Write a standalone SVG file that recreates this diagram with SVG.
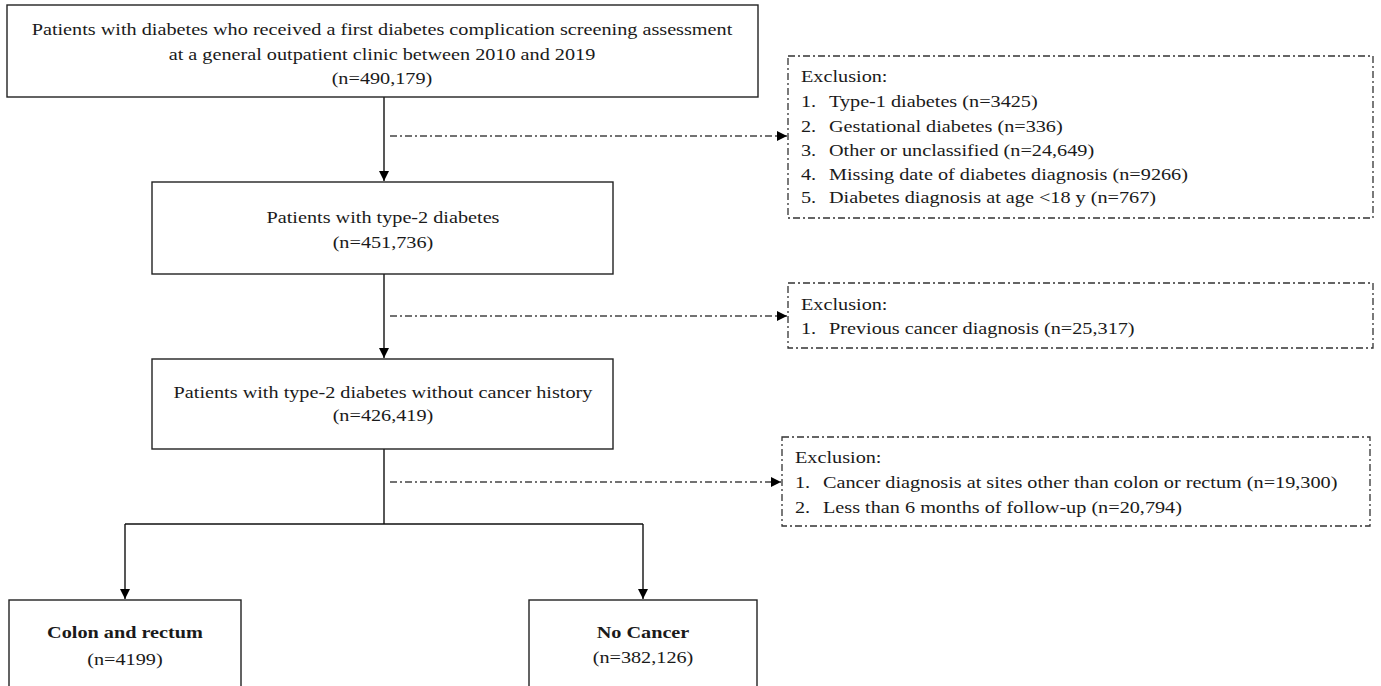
<svg xmlns="http://www.w3.org/2000/svg" width="1381" height="686" viewBox="0 0 1381 686">
<defs>
<marker id="ah" viewBox="0 0 10 10" refX="10" refY="5" markerWidth="10" markerHeight="10" markerUnits="userSpaceOnUse" orient="auto">
<path d="M0,0 L10,5 L0,10 z" fill="#000"/>
</marker>
<style>
text{font-family:"Liberation Serif","Times New Roman",serif;font-size:17px;fill:#1a1a1a}
.c{text-anchor:middle}
.b{font-weight:bold}
.box{fill:#fff;stroke:#222;stroke-width:1.4}
.dbox{fill:#fff;stroke:#333;stroke-width:1.3;stroke-dasharray:7 3 2 3}
.ln{fill:none;stroke:#111;stroke-width:1.4}
.dl{fill:none;stroke:#444;stroke-width:1.3;stroke-dasharray:7 3 2 3}
</style>
</defs>
<rect width="1381" height="686" fill="#fff"/>
<g id="connectors">
<path class="ln" d="M384,97 L384,181" marker-end="url(#ah)"/>
<path class="ln" d="M384,274 L384,358" marker-end="url(#ah)"/>
<path class="ln" d="M384,449 L384,524 M125,524 L643,524"/>
<path class="ln" d="M125,524 L125,599" marker-end="url(#ah)"/>
<path class="ln" d="M643,524 L643,599" marker-end="url(#ah)"/>
<path class="dl" d="M390,136 L787,136" marker-end="url(#ah)"/>
<path class="dl" d="M390,316 L787,316" marker-end="url(#ah)"/>
<path class="dl" d="M390,482 L781,482" marker-end="url(#ah)"/>
</g>
<g id="n1">
<rect class="box" x="7" y="5" width="751" height="92"/>
<g transform="scale(1.19 1)">
<text class="c" x="321.0" y="35">Patients with diabetes who received a first diabetes complication screening assessment</text>
<text class="c" x="321.0" y="60">at a general outpatient clinic between 2010 and 2019</text>
<text class="c" x="321.0" y="84">(n=490,179)</text>
</g>
</g>
<g id="n2">
<rect class="box" x="152" y="182" width="461" height="92"/>
<g transform="scale(1.19 1)">
<text class="c" x="321.85" y="223">Patients with type-2 diabetes</text>
<text class="c" x="321.85" y="248">(n=451,736)</text>
</g>
</g>
<g id="n3">
<rect class="box" x="152" y="359" width="461" height="90"/>
<g transform="scale(1.19 1)">
<text class="c" x="321.85" y="398">Patients with type-2 diabetes without cancer history</text>
<text class="c" x="321.85" y="421">(n=426,419)</text>
</g>
</g>
<g id="n4">
<rect class="box" x="9" y="600" width="232" height="100"/>
<g transform="scale(1.19 1)">
<text class="c b" x="105.04" y="638">Colon and rectum</text>
<text class="c" x="105.04" y="665">(n=4199)</text>
</g>
</g>
<g id="n5">
<rect class="box" x="529" y="600" width="228" height="100"/>
<g transform="scale(1.19 1)">
<text class="c b" x="540.34" y="638">No Cancer</text>
<text class="c" x="540.34" y="663">(n=382,126)</text>
</g>
</g>
<g id="e1">
<rect class="dbox" x="788" y="56" width="585" height="162"/>
<g transform="scale(1.19 1)">
<text x="673.1" y="82">Exclusion:</text>
<text x="673.1" y="107">1.</text><text x="696.64" y="107">Type-1 diabetes (n=3425)</text>
<text x="673.1" y="132">2.</text><text x="696.64" y="132">Gestational diabetes (n=336)</text>
<text x="673.1" y="156">3.</text><text x="696.64" y="156">Other or unclassified (n=24,649)</text>
<text x="673.1" y="180">4.</text><text x="696.64" y="180">Missing date of diabetes diagnosis (n=9266)</text>
<text x="673.1" y="203">5.</text><text x="696.64" y="203">Diabetes diagnosis at age &lt;18 y (n=767)</text>
</g>
</g>
<g id="e2">
<rect class="dbox" x="788" y="283" width="585" height="65"/>
<g transform="scale(1.19 1)">
<text x="673.1" y="310">Exclusion:</text>
<text x="673.1" y="334">1.</text><text x="696.64" y="334">Previous cancer diagnosis (n=25,317)</text>
</g>
</g>
<g id="e3">
<rect class="dbox" x="782" y="437" width="588" height="89"/>
<g transform="scale(1.19 1)">
<text x="668.07" y="463">Exclusion:</text>
<text x="668.07" y="488">1.</text><text x="691.6" y="488">Cancer diagnosis at sites other than colon or rectum (n=19,300)</text>
<text x="668.07" y="513">2.</text><text x="691.6" y="513">Less than 6 months of follow-up (n=20,794)</text>
</g>
</g>
</svg>
